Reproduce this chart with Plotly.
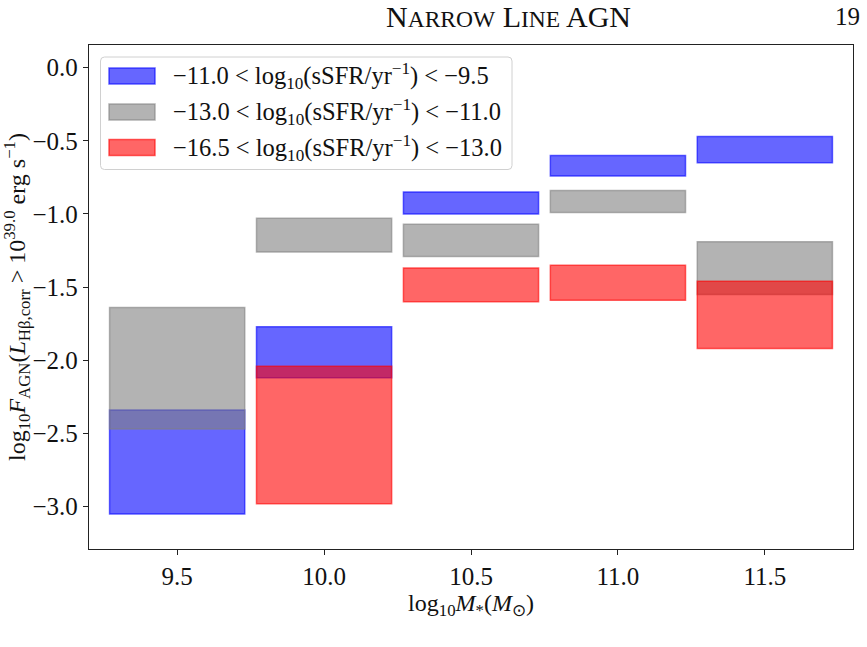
import plotly.graph_objects as go

# ---- data ----
mass_bins = [9.5, 10.0, 10.5, 11.0, 11.5]
blue_lo = [-3.05, -2.12, -1.00, -0.74, -0.65]
blue_hi = [-2.34, -1.77, -0.85, -0.60, -0.47]
grey_lo = [-2.47, -1.26, -1.29, -0.99, -1.55]
grey_hi = [-1.64, -1.03, -1.07, -0.84, -1.19]
red_lo = [None, -2.98, -1.60, -1.59, -1.92]
red_hi = [None, -2.04, -1.37, -1.35, -1.46]
series_names = [
    "−11.0 < log<sub>10</sub>(sSFR/yr<sup>−1</sup>) < −9.5",
    "−13.0 < log<sub>10</sub>(sSFR/yr<sup>−1</sup>) < −11.0",
    "−16.5 < log<sub>10</sub>(sSFR/yr<sup>−1</sup>) < −13.0",
]
x_ticks = [9.5, 10.0, 10.5, 11.0, 11.5]
x_ticktext = ["9.5", "10.0", "10.5", "11.0", "11.5"]
y_ticks = [0.0, -0.5, -1.0, -1.5, -2.0, -2.5, -3.0]
y_ticktext = ["0.0", "−0.5", "−1.0", "−1.5", "−2.0", "−2.5", "−3.0"]

FONT = "Liberation Serif"
colors = ["rgba(0,0,255,0.6)", "rgba(128,128,128,0.6)", "rgba(255,0,0,0.6)"]

W, H = 867, 647
ML, MR, MT, MB = 89, 14, 45, 98
PW, PH = W - ML - MR, H - MT - MB


def px(xp):
    return (xp - ML) / PW


def py(yp):
    return (H - MB - yp) / PH


fig = go.Figure()
for name, lo, hi, col in zip(series_names, [blue_lo, grey_lo, red_lo],
                             [blue_hi, grey_hi, red_hi], colors):
    xs, bases, heights = [], [], []
    for m, l, h in zip(mass_bins, lo, hi):
        if l is None or h is None:
            continue
        xs.append(m)
        bases.append(l)
        heights.append(h - l)
    fig.add_trace(go.Bar(
        x=xs, y=heights, base=bases, width=0.46, name=name,
        showlegend=False,
        marker=dict(color=col, line=dict(color=col, width=1.5)),
    ))

# ---- legend drawn as a boxed key (styling only) ----
shapes = []
annotations = []
bx0, bx1, by0, by1, r = 100.5, 512, 57, 169.5, 4
rx, ry = r / PW, r / PH
X0, X1, Y0, Y1 = px(bx0), px(bx1), py(by1), py(by0)
path = (f"M{X0+rx},{Y0} L{X1-rx},{Y0} Q{X1},{Y0} {X1},{Y0+ry} "
        f"L{X1},{Y1-ry} Q{X1},{Y1} {X1-rx},{Y1} L{X0+rx},{Y1} "
        f"Q{X0},{Y1} {X0},{Y1-ry} L{X0},{Y0+ry} Q{X0},{Y0} {X0+rx},{Y0} Z")
shapes.append(dict(type="path", xref="paper", yref="paper", path=path,
                   fillcolor="rgba(255,255,255,0.8)",
                   line=dict(color="#d0d0d0", width=1), layer="above"))
row_centers = [76, 112, 147.5]
for name, col, yc in zip(series_names, colors, row_centers):
    shapes.append(dict(type="rect", xref="paper", yref="paper",
                       x0=px(109), x1=px(155), y0=py(yc + 8), y1=py(yc - 8),
                       fillcolor=col, line=dict(color=col, width=1.5),
                       layer="above"))
    annotations.append(dict(text=name, xref="paper", yref="paper",
                            x=px(171), y=py(yc), xanchor="left", yanchor="middle",
                            showarrow=False,
                            font=dict(family=FONT, size=24.5, color="#111")))

annotations += [
    dict(text="N<span style='font-size:23.5px'>ARROW</span> L<span style='font-size:23.5px'>INE</span> AGN",
         xref="paper", yref="paper", x=px(508), y=py(17), showarrow=False,
         xanchor="center", yanchor="middle", font=dict(family=FONT, size=30, color="#111")),
    dict(text="19", xref="paper", yref="paper", x=px(847), y=py(17), showarrow=False,
         xanchor="center", yanchor="middle", font=dict(family=FONT, size=25, color="#111")),
]

axis_common = dict(
    showline=True, mirror=True, linecolor="#222", linewidth=1.3,
    ticks="outside", ticklen=5, tickcolor="#222", tickwidth=1,
    showgrid=False, zeroline=False,
    tickfont=dict(family=FONT, size=25, color="#111"),
)

fig.update_layout(
    width=W, height=H,
    margin=dict(l=ML, r=MR, t=MT, b=MB),
    paper_bgcolor="white", plot_bgcolor="white",
    barmode="overlay",
    showlegend=False,
    font=dict(family=FONT, color="#111"),
    xaxis=dict(range=[9.2, 11.8], tickvals=x_ticks, ticktext=x_ticktext,
               title=dict(text="log<sub>10</sub><i>M</i><sub>*</sub>(<i>M</i><sub>⊙</sub>)",
                          font=dict(family=FONT, size=24), standoff=0),
               **axis_common),
    yaxis=dict(range=[-3.29, 0.155], tickvals=y_ticks, ticktext=y_ticktext,
               title=dict(text="log<sub>10</sub><i>F</i><sub>AGN</sub>(<i>L</i><sub>Hβ,corr</sub> > 10<sup>39.0</sup> erg s<sup>−1</sup>)",
                          font=dict(family=FONT, size=24), standoff=4),
               **axis_common),
    shapes=shapes,
    annotations=annotations,
)

fig.write_html("out.html")
